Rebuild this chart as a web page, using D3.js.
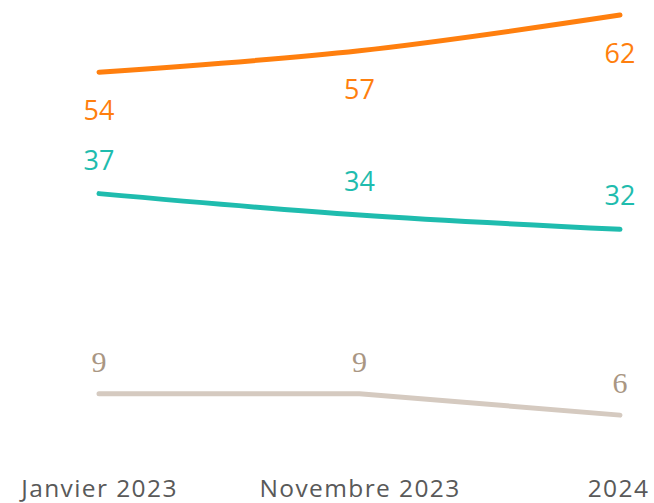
<!DOCTYPE html>
<html>
<head>
<meta charset="utf-8">
<script src="https://cdn.jsdelivr.net/npm/d3@7"></script>
<style>
  body { margin: 0; background: #fff; }
</style>
</head>
<body>
<div id="chart"></div>
<script>
const periods = ["Janvier 2023", "Novembre 2023", "2024"];
const orangeValues = [54, 57, 62];
const tealValues = [37, 34, 32];
const beigeValues = [9, 9, 6];

const series = [
    { name: "orange", values: orangeValues, color: "#ff7f0e", text: "#ff7f0e", curve: d3.curveMonotoneX, dy: 48, font: "'Open Sans', sans-serif", size: 27 },
    { name: "teal", values: tealValues, color: "#1fbcae", text: "#1fbcae", curve: d3.curveMonotoneX, dy: -24, font: "'Open Sans', sans-serif", size: 27 },
    { name: "beige", values: beigeValues, color: "#d5cac0", text: "#a99683", curve: d3.curveLinear, dy: -22, font: "'Liberation Serif', serif", size: 30 }
];

const w = 654;
const h = 503;

const svg = d3.select("#chart").append("svg")
    .attr("width", w)
    .attr("height", h);

const x = d3.scalePoint()
    .domain(periods)
    .range([99, 620]);

const y = d3.scaleLinear()
    .domain([0, 62])
    .range([458, 15]);

// axis (labels only)
const axis = svg.append("g")
    .attr("transform", `translate(0,${h - 15})`)
    .call(d3.axisBottom(x).tickSize(0).tickPadding(0));

axis.select(".domain").remove();
axis.selectAll("text")
    .attr("dy", "0.35em")
    .attr("font-family", "'Open Sans', sans-serif")
    .attr("font-size", 24.5)
    .attr("letter-spacing", 1.4)
    .attr("fill", "#595959");
axis.selectAll("text").filter((d, i) => i === 2).attr("dx", -2);

// lines
series.forEach(s => {
    const line = d3.line()
        .x((d, i) => x(periods[i]))
        .y(d => y(d))
        .curve(s.curve);

    svg.append("path")
        .datum(s.values)
        .attr("fill", "none")
        .attr("stroke", s.color)
        .attr("stroke-width", 5)
        .attr("stroke-linecap", "round")
        .attr("d", line);

    svg.selectAll(`text.lbl-${s.name}`)
        .data(s.values)
        .enter()
        .append("text")
        .attr("class", `lbl-${s.name}`)
        .attr("x", (d, i) => x(periods[i]))
        .attr("y", d => y(d) + s.dy)
        .attr("text-anchor", "middle")
        .attr("font-family", s.font)
        .attr("font-size", s.size)
        .attr("fill", s.text)
        .text(d => d);
});
</script>
</body>
</html>
